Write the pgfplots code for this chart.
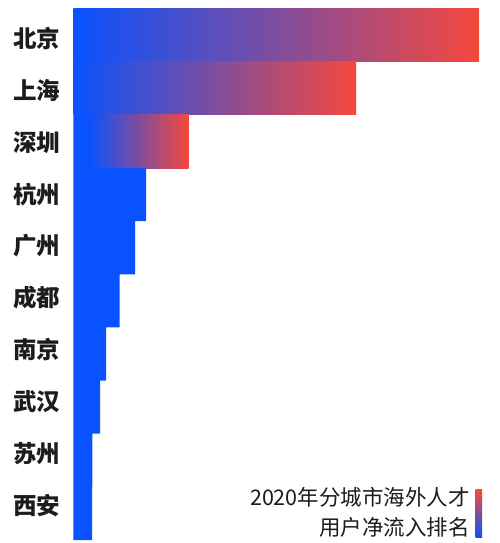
\documentclass[border=0pt]{standalone}
\usepackage{fontspec}
\setmainfont{Noto Sans CJK SC}[BoldFont={Noto Sans CJK SC Black}]
\usepackage{pgfplots}
\pgfplotsset{compat=1.18}
\definecolor{cblue}{RGB}{8,82,255}
\definecolor{cred}{RGB}{246,72,60}
\definecolor{ink}{RGB}{28,28,28}
\begin{document}
\begin{tikzpicture}[x=1pt,y=1pt]
\path[use as bounding box] (0,0) rectangle (499,543);
\begin{axis}[
    at={(73.3pt,3pt)}, anchor=south west,
    scale only axis,
    width=425.7pt, height=531.3pt,
    xmin=0, xmax=425.7,
    ymin=-0.5, ymax=9.5,
    y dir=reverse,
    axis line style={draw=none},
    xtick=\empty,
    major tick length=0pt,
    ytick={0.067,1.042,2.018,2.993,3.969,4.944,5.920,6.895,7.871,8.846},
    yticklabels={北京,上海,深圳,杭州,广州,成都,南京,武汉,苏州,西安},
    yticklabel style={anchor=east, inner sep=0pt, xshift=-13pt,
        font=\fontsize{23.5}{26}\selectfont\bfseries, text=ink},
]
% gradient bars (top three)
\addplot[draw=none, left color=cblue, right color=cred]
    coordinates {(0,-0.5) (405.7,-0.5) (405.7,0.5) (0,0.5)} -- cycle;
\addplot[draw=none, left color=cblue, right color=cred]
    coordinates {(0,0.5) (282.7,0.5) (282.7,1.5) (0,1.5)} -- cycle;
\addplot[draw=none, left color=cblue, right color=cred]
    coordinates {(15,1.5) (115.4,1.5) (115.4,2.5) (15,2.5)} -- cycle;
% plain blue bars
\addplot[xbar, bar width=1, draw=none, fill=cblue]
    coordinates {(15,2) (72.7,3) (61.7,4) (46.2,5) (32.7,6) (26.7,7) (19,8) (18.7,9)};
\end{axis}
\node[anchor=east, inner sep=0pt, text=ink, font=\fontsize{21.5}{24}\selectfont]
    at (470,46) {2020年分城市海外人才};
\node[anchor=east, inner sep=0pt, text=ink, font=\fontsize{21.5}{24}\selectfont]
    at (470,16) {用户净流入排名};
\shade[top color=cred, bottom color=cblue] (475.5,5) rectangle (482,53);
\end{tikzpicture}
\end{document}
